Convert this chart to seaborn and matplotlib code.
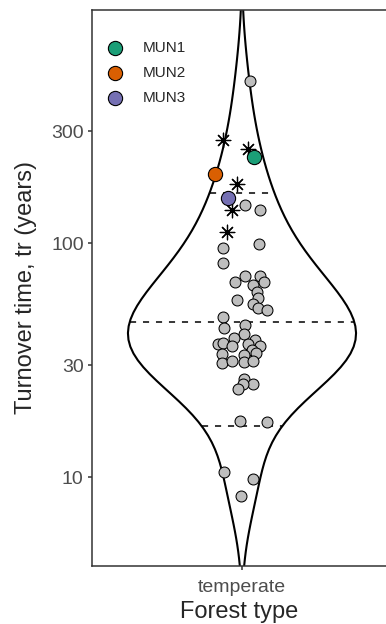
import numpy as np
import pandas as pd
import matplotlib
matplotlib.use("Agg")
import matplotlib.pyplot as plt
import seaborn as sns
from matplotlib.ticker import FixedLocator, NullLocator

# turnover times of the temperate sites (grey dots) and their horizontal jitter
turnover = [492, 145, 138, 99, 95, 82, 72, 72, 68, 68, 66, 62, 58, 57, 55, 53, 52,
            48.5, 43.2, 44.6, 41, 39.2, 38.5, 37, 37.5, 36.3, 37, 36.3, 34.9, 33.5,
            33.2, 33.8, 30.8, 31.4, 31.1, 31.4, 26.2, 25.1, 24.9, 23.8, 17.3, 17.2,
            10.5, 9.8, 8.3]
jitter = [0.028, 0.011, 0.063, 0.060, -0.067, -0.067, 0.011, 0.063, -0.025, 0.077,
          0.039, 0.053, 0.056, -0.018, 0.039, 0.056, 0.088, -0.067, -0.063, 0.011,
          0.007, -0.028, 0.046, -0.084, -0.067, -0.035, 0.021, 0.063, 0.035, -0.070,
          0.007, 0.049, -0.070, -0.035, 0.007, 0.039, 0.007, 0.039, 0.004, -0.014,
          -0.007, 0.088, -0.063, 0.039, -0.004]

# sites marked with an asterisk
star_turnover = [275, 251, 179, 138, 112]
star_jitter = [-0.067, 0.021, -0.018, -0.035, -0.053]

# highlighted sites
mun_sites = ["MUN1", "MUN2", "MUN3"]
mun_turnover = [234, 197, 155]
mun_jitter = [0.042, -0.095, -0.049]
mun_colors = ["#1B9E77", "#D95F02", "#7570B3"]

quantile_levels = [0.1, 0.5, 0.9]
y_ticks = [10, 30, 100, 300]

sns.set_style("white")
plt.rcParams["font.family"] = ["Liberation Sans", "DejaVu Sans"]

df = pd.DataFrame({"forest": "temperate", "tr": turnover + star_turnover})

fig = plt.figure(figsize=(3.86, 6.24), dpi=100)
ax = fig.add_axes([92 / 386, 58 / 624, 294 / 386, 556 / 624])

sns.violinplot(data=df, x="forest", y="tr", log_scale=True, inner=None, cut=3,
               bw_adjust=1.15, fill=False, color="black", linewidth=1.5,
               width=0.8, ax=ax)

# quantile lines taken from the violin density (log space), like ggplot's draw_quantiles
verts = ax.collections[0].get_paths()[0].vertices
side = verts[verts[:, 0] >= 0]
ys, idx = np.unique(side[:, 1], return_index=True)
half = side[idx, 0]
logy = np.log10(ys)
cdf = np.concatenate([[0], np.cumsum(np.diff(logy) * (half[1:] + half[:-1]) / 2)])
cdf /= cdf[-1]
for q in quantile_levels:
    yq = 10 ** np.interp(q, cdf, logy)
    w = np.interp(yq, ys, half)
    ax.hlines(yq, -w, w, colors="black", linestyles=(0, (4, 4.5)), linewidth=1.1,
              zorder=2)

ax.scatter(jitter, turnover, s=62, c="#BEBEBE", edgecolors="black",
           linewidths=0.75, zorder=3)
ax.scatter(star_jitter, star_turnover, s=110, marker=(8, 2, 0), c="black",
           linewidths=0.9, zorder=4)
for site, val, dx, col in zip(mun_sites, mun_turnover, mun_jitter, mun_colors):
    ax.scatter([dx], [val], s=105, c=col, edgecolors="black", linewidths=0.8,
               zorder=5, label=site)

ax.legend(loc="upper left", bbox_to_anchor=(-0.026, 0.971), frameon=False,
          fontsize=11, handletextpad=0.85, labelspacing=0.72, borderaxespad=0.6,
          scatterpoints=1)

ax.set_ylim(4.17, 990)
ax.set_xlim(-0.526, 0.505)
ax.yaxis.set_major_locator(FixedLocator(y_ticks))
ax.yaxis.set_minor_locator(NullLocator())
ax.set_yticklabels([str(t) for t in y_ticks])

for s in ["left", "bottom", "top"]:
    ax.spines[s].set_visible(True)
    ax.spines[s].set_color("#333333")
    ax.spines[s].set_linewidth(1.1)
ax.spines["right"].set_visible(False)

ax.tick_params(axis="both", which="major", length=3, width=1.1, color="#333333",
               labelcolor="#4D4D4D", labelsize=14, pad=3, left=True, bottom=True)
ax.tick_params(axis="x", pad=6)
ax.set_xlabel("Forest type", fontsize=17, labelpad=4)
ax.set_ylabel("Turnover time, tr (years)", fontsize=17, labelpad=10)

fig.savefig("out.png", dpi=100)
